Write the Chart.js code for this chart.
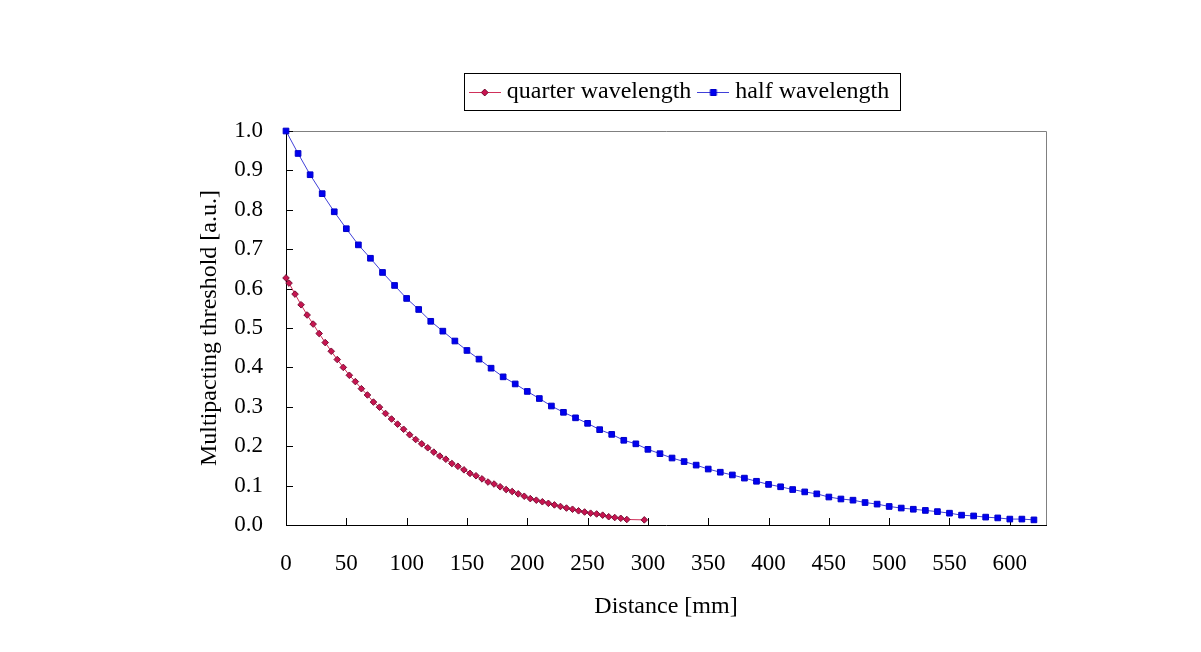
<!DOCTYPE html>
<html>
<head>
<meta charset="utf-8">
<script src="https://cdn.jsdelivr.net/npm/chart.js@4.4.1/dist/chart.umd.min.js"></script>
<style>
  html, body { margin: 0; padding: 0; background: #fff; }
  canvas { display: block; }
</style>
</head>
<body>
<canvas id="chart" width="1201" height="652"></canvas>
<script>
// series names
const seriesNames = ['quarter wavelength', 'half wavelength'];

// quarter wavelength: distance [mm] and threshold [a.u.]
const quarterX = [0, 2.5, 7.5, 12.5, 17.5, 22.5, 27.5, 32.5, 37.5, 42.5, 47.5,
  52.5, 57.5, 62.5, 67.5, 72.5, 77.5, 82.5, 87.5, 92.5, 97.5,
  102.5, 107.5, 112.5, 117.5, 122.5, 127.5, 132.5, 137.5, 142.5, 147.5,
  152.5, 157.5, 162.5, 167.5, 172.5, 177.5, 182.5, 187.5, 192.5, 197.5,
  202.5, 207.5, 212.5, 217.5, 222.5, 227.5, 232.5, 237.5, 242.5, 247.5,
  252.5, 257.5, 262.5, 267.5, 272.5, 277.5, 282.5, 297];
const quarterY = [0.627, 0.614, 0.586, 0.559, 0.533, 0.510, 0.486, 0.463, 0.441, 0.420, 0.400,
  0.380, 0.364, 0.346, 0.330, 0.312, 0.299, 0.283, 0.269, 0.256, 0.243,
  0.229, 0.217, 0.206, 0.196, 0.185, 0.175, 0.167, 0.156, 0.149, 0.140,
  0.131, 0.125, 0.117, 0.109, 0.104, 0.097, 0.090, 0.085, 0.079, 0.073,
  0.067, 0.063, 0.059, 0.055, 0.051, 0.047, 0.043, 0.040, 0.036, 0.033,
  0.030, 0.028, 0.025, 0.021, 0.019, 0.017, 0.014, 0.013];

// half wavelength
const halfX = [0, 10, 20, 30, 40, 50, 60, 70, 80, 90, 100, 110, 120, 130, 140, 150,
  160, 170, 180, 190, 200, 210, 220, 230, 240, 250, 260, 270, 280, 290, 300,
  310, 320, 330, 340, 350, 360, 370, 380, 390, 400, 410, 420, 430, 440, 450,
  460, 470, 480, 490, 500, 510, 520, 530, 540, 550, 560, 570, 580, 590, 600,
  610, 620];
const halfY = [1.000, 0.943, 0.889, 0.841, 0.795, 0.752, 0.711, 0.677, 0.641, 0.608, 0.575,
  0.547, 0.517, 0.492, 0.467, 0.443, 0.421, 0.398, 0.376, 0.358, 0.339,
  0.321, 0.302, 0.286, 0.272, 0.258, 0.242, 0.230, 0.215, 0.206, 0.192,
  0.181, 0.170, 0.161, 0.152, 0.142, 0.134, 0.127, 0.119, 0.111, 0.103,
  0.097, 0.090, 0.084, 0.079, 0.071, 0.066, 0.063, 0.057, 0.053, 0.047,
  0.043, 0.040, 0.037, 0.034, 0.030, 0.025, 0.023, 0.020, 0.018, 0.015,
  0.015, 0.013];

// tick labels
const xTicks = [0, 50, 100, 150, 200, 250, 300, 350, 400, 450, 500, 550, 600];
const yTicks = ['0.0', '0.1', '0.2', '0.3', '0.4', '0.5', '0.6', '0.7', '0.8', '0.9', '1.0'];

const serif = "'Liberation Serif', 'Times New Roman', serif";
Chart.defaults.font.family = serif;
Chart.defaults.color = '#000';

function toPoints(xs, ys) {
  return xs.map((x, i) => ({ x: x, y: ys[i] }));
}

// small line + marker pictures for the legend
function makeIcon(lineColor, fill, stroke, shape) {
  const c = document.createElement('canvas');
  c.width = 32; c.height = 12;
  const g = c.getContext('2d');
  g.strokeStyle = lineColor;
  g.lineWidth = 1;
  g.beginPath(); g.moveTo(0, 6.5); g.lineTo(32, 6.5); g.stroke();
  g.fillStyle = fill; g.strokeStyle = stroke;
  g.beginPath();
  if (shape === 'diamond') {
    g.moveTo(16, 3); g.lineTo(19.5, 6.5); g.lineTo(16, 10); g.lineTo(12.5, 6.5); g.closePath();
  } else {
    g.rect(13, 3.5, 6, 6);
  }
  g.fill(); g.stroke();
  return c;
}

const quarterStyle = { line: '#d0305a', fill: '#c81450', stroke: '#7a1036' };
const halfStyle = { line: '#4040d8', fill: '#0000f0', stroke: '#0000c8' };
const legendIcons = [
  makeIcon(quarterStyle.line, quarterStyle.fill, quarterStyle.stroke, 'diamond'),
  makeIcon(halfStyle.line, halfStyle.fill, halfStyle.stroke, 'square')
];

// frame: grey top/right border, inward tick marks
const frame = {
  id: 'frame',
  beforeDatasetsDraw(chart) {
    const { ctx, chartArea: a, scales } = chart;
    ctx.save();
    ctx.lineWidth = 1;
    ctx.strokeStyle = '#808080';
    ctx.beginPath();
    ctx.moveTo(a.left, Math.round(a.top) + 0.5);
    ctx.lineTo(Math.round(a.right) + 0.5, Math.round(a.top) + 0.5);
    ctx.lineTo(Math.round(a.right) + 0.5, a.bottom);
    ctx.stroke();
    ctx.strokeStyle = '#000';
    ctx.beginPath();
    scales.x.ticks.forEach((t, i) => {
      const px = Math.round(scales.x.getPixelForTick(i)) + 0.5;
      ctx.moveTo(px, a.bottom);
      ctx.lineTo(px, a.bottom - 7);
    });
    scales.y.ticks.forEach((t, i) => {
      const py = Math.round(scales.y.getPixelForTick(i)) + 0.5;
      ctx.moveTo(a.left, py);
      ctx.lineTo(a.left + 7, py);
    });
    ctx.stroke();
    ctx.restore();
  }
};

// move the legend to where it sits in the original and put a box round it
const legendBox = {
  id: 'legendBox',
  afterLayout(chart) {
    const lg = chart.legend;
    const dx = 16, dy = 68 - lg.top;
    lg.left += dx; lg.right += dx;
    lg.top += dy; lg.bottom += dy;
  },
  afterDraw(chart) {
    const hb = chart.legend.legendHitBoxes;
    if (!hb || !hb.length) return;
    const l = Math.min(...hb.map(h => h.left)) - 11;
    const r = Math.max(...hb.map(h => h.left + h.width)) + 10;
    const t = hb[0].top - 7;
    const b = hb[0].top + hb[0].height + 6;
    const ctx = chart.ctx;
    ctx.save();
    ctx.strokeStyle = '#000';
    ctx.lineWidth = 1;
    ctx.strokeRect(Math.round(l) + 0.5, Math.round(t) + 0.5, Math.round(r - l), Math.round(b - t));
    ctx.restore();
  }
};

new Chart(document.getElementById('chart'), {
  type: 'scatter',
  data: {
    datasets: [
      {
        label: seriesNames[0],
        data: toPoints(quarterX, quarterY),
        showLine: true,
        borderColor: quarterStyle.line,
        borderWidth: 1,
        pointStyle: 'rectRot',
        pointRadius: 3.3,
        pointBackgroundColor: quarterStyle.fill,
        pointBorderColor: quarterStyle.stroke,
        pointBorderWidth: 1,
        clip: false
      },
      {
        label: seriesNames[1],
        data: toPoints(halfX, halfY),
        showLine: true,
        borderColor: halfStyle.line,
        borderWidth: 1,
        pointStyle: 'rect',
        pointRadius: 4,
        pointBackgroundColor: halfStyle.fill,
        pointBorderColor: halfStyle.stroke,
        pointBorderWidth: 1,
        clip: false
      }
    ]
  },
  options: {
    responsive: false,
    animation: false,
    devicePixelRatio: 1,
    layout: { padding: { left: 0, right: 155, top: 91, bottom: 0 } },
    plugins: {
      tooltip: { enabled: false },
      legend: {
        position: 'top',
        fullSize: false,
        maxHeight: 40,
        labels: {
          usePointStyle: true,
          pointStyleWidth: 20,
          padding: 12,
          color: '#000',
          font: { size: 24, family: serif },
          generateLabels: chart => chart.data.datasets.map((ds, i) => ({
            text: ds.label,
            pointStyle: legendIcons[i],
            fillStyle: ds.pointBackgroundColor,
            strokeStyle: ds.borderColor,
            lineWidth: 0,
            hidden: false,
            datasetIndex: i,
            fontColor: '#000'
          }))
        }
      }
    },
    scales: {
      x: {
        type: 'linear',
        min: 0,
        max: 630,
        afterBuildTicks: scale => {
          scale.ticks = xTicks.map(v => ({ value: v }));
        },
        afterFit: scale => { scale.height = 127; },
        grid: { drawOnChartArea: false, drawTicks: false },
        border: { color: '#000', width: 1 },
        ticks: {
          padding: 25,
          maxRotation: 0,
          font: { size: 23, family: serif },
          color: '#000',
          callback: v => String(v)
        },
        title: {
          display: true,
          text: 'Distance [mm]',
          color: '#000',
          font: { size: 24, family: serif },
          padding: { top: 0, bottom: 31 }
        }
      },
      y: {
        type: 'linear',
        min: 0,
        max: 1,
        afterBuildTicks: scale => {
          scale.ticks = yTicks.map(s => ({ value: parseFloat(s) }));
        },
        afterFit: scale => { scale.width = 286; },
        grid: { drawOnChartArea: false, drawTicks: false },
        border: { color: '#000', width: 1 },
        ticks: {
          padding: 23,
          font: { size: 23, family: serif },
          color: '#000',
          callback: v => yTicks[Math.round(v * 10)]
        },
        title: {
          display: true,
          text: 'Multipacting threshold [a.u.]',
          color: '#000',
          font: { size: 24, family: serif },
          padding: { top: 195, bottom: 0 }
        }
      }
    }
  },
  plugins: [frame, legendBox]
});
</script>
</body>
</html>
